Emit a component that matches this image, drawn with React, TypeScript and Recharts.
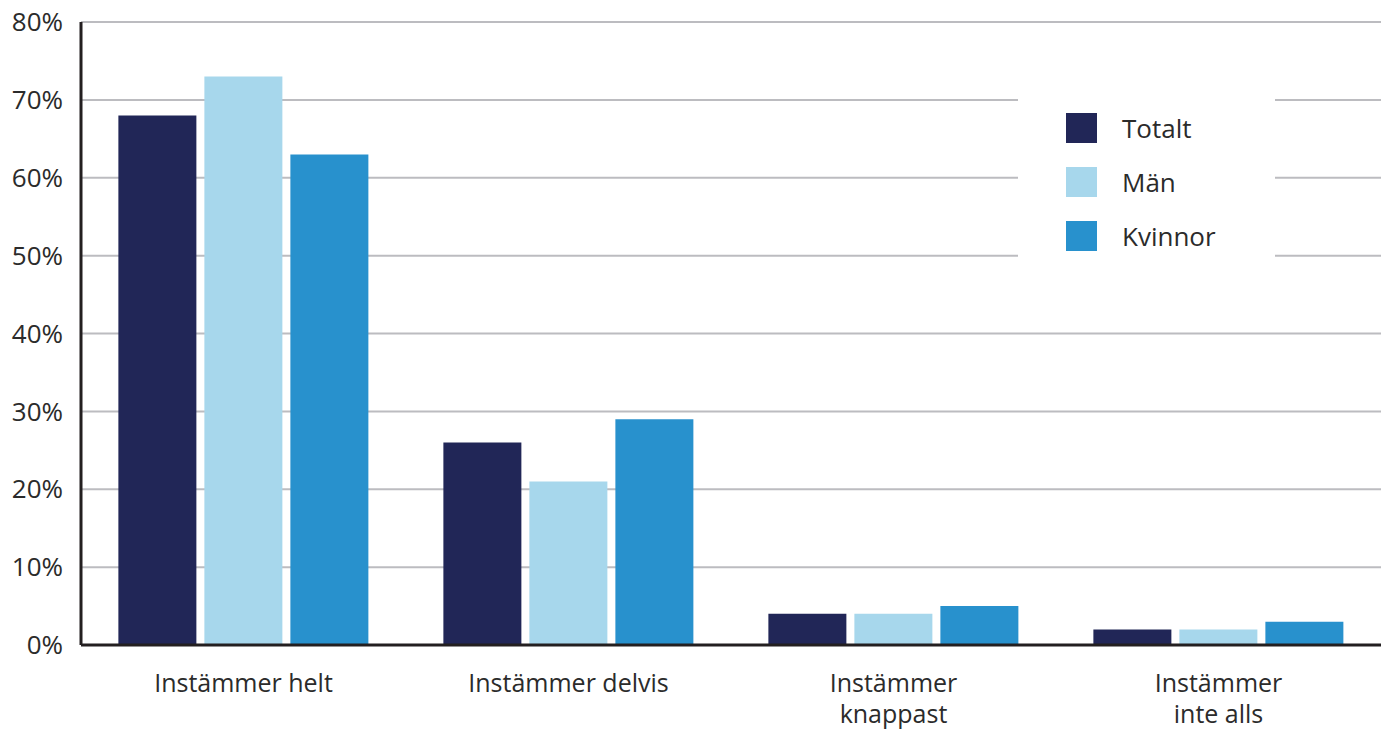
import { BarChart, Bar, XAxis, YAxis, CartesianGrid } from "recharts";

const categories = ["Instämmer helt", "Instämmer delvis", "Instämmer knappast", "Instämmer inte alls"];
const totalt = [68, 26, 4, 2];
const man = [73, 21, 4, 2];
const kvinnor = [63, 29, 5, 3];
const yTicks = [0, 10, 20, 30, 40, 50, 60, 70, 80];

const series = [
  { key: "totalt", name: "Totalt", color: "#212657" },
  { key: "man", name: "Män", color: "#a7d7ec" },
  { key: "kvinnor", name: "Kvinnor", color: "#2891cd" },
];

const data = categories.map((c, i) => ({
  category: c,
  totalt: totalt[i],
  man: man[i],
  kvinnor: kvinnor[i],
}));

const FONT = "'Open Sans', sans-serif";
const TEXT = "#2b2b2b";

// long labels break after the first word, like the original
function CategoryTick(props: any) {
  const { x, y, payload } = props;
  const label: string = payload.value;
  const lines =
    label.length > 16
      ? [label.split(" ")[0], label.split(" ").slice(1).join(" ")]
      : [label];
  return (
    <text x={x} y={y + 39} textAnchor="middle" fontSize={25} fontFamily={FONT} fill={TEXT}>
      {lines.map((l, i) => (
        <tspan key={i} x={x} dy={i === 0 ? 0 : 31}>
          {l}
        </tspan>
      ))}
    </text>
  );
}

// legend drawn on a white box over the gridlines, top right
function LegendBox() {
  return (
    <div
      style={{
        position: "absolute",
        left: 1018,
        top: 95,
        width: 257,
        height: 166,
        background: "#fff",
        paddingTop: 6,
        boxSizing: "border-box",
      }}
    >
      {series.map((s) => (
        <div key={s.key} style={{ display: "flex", alignItems: "center", height: 54, marginLeft: 48 }}>
          <div style={{ width: 31, height: 30, background: s.color }} />
          <span style={{ marginLeft: 25, fontSize: 26, fontFamily: FONT, color: TEXT }}>{s.name}</span>
        </div>
      ))}
    </div>
  );
}

export default function App() {
  return (
    <div style={{ position: "absolute", left: 0, top: 0 }}>
      <BarChart
        width={1392}
        height={754}
        data={data}
        margin={{ top: 22, right: 11, bottom: 9, left: 0 }}
        barCategoryGap="11.5%"
        barGap={8}
      >
        <CartesianGrid vertical={false} stroke="#bcbcc0" strokeWidth={2} />
        <XAxis
          dataKey="category"
          height={100}
          tickLine={false}
          axisLine={{ stroke: "#231f20", strokeWidth: 3 }}
          tick={<CategoryTick />}
          interval={0}
        />
        <YAxis
          width={81}
          domain={[0, 80]}
          ticks={yTicks}
          tickFormatter={(v) => `${v}%`}
          tickLine={false}
          axisLine={{ stroke: "#231f20", strokeWidth: 3 }}
          tick={{ fontSize: 26, fontFamily: FONT, fill: TEXT }}
          tickMargin={12}
        />
        {series.map((s) => (
          <Bar key={s.key} dataKey={s.key} name={s.name} fill={s.color} isAnimationActive={false} />
        ))}
      </BarChart>
      <LegendBox />
    </div>
  );
}
